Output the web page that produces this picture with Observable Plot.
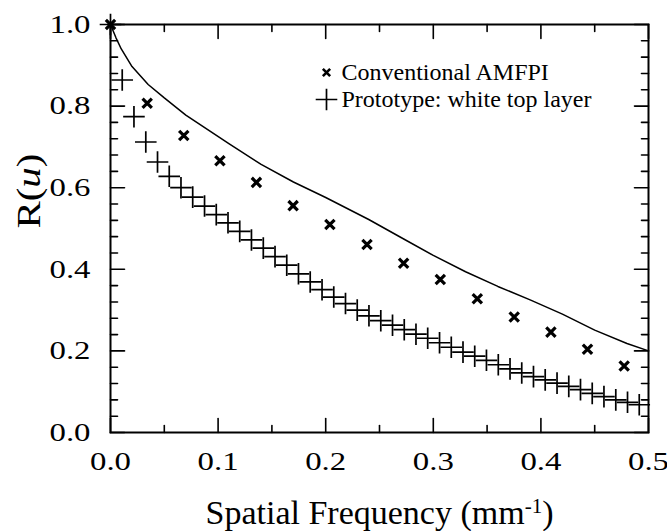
<!DOCTYPE html>
<html><head><meta charset="utf-8">
<script src="https://cdn.jsdelivr.net/npm/d3@7"></script>
<script src="https://cdn.jsdelivr.net/npm/@observablehq/plot@0.6"></script>
<style>body{margin:0;background:#fff;}</style>
</head><body><div id="chart"></div>
<script>
// Conventional AMFPI (x markers)
const convX = [0, 0.0341, 0.0681, 0.1017, 0.1356, 0.1697, 0.2039, 0.2384, 0.2724, 0.3065, 0.3409, 0.3752, 0.4093, 0.4433, 0.4774];
const convY = [1.0, 0.807, 0.728, 0.666, 0.613, 0.556, 0.510, 0.461, 0.415, 0.375, 0.328, 0.283, 0.246, 0.204, 0.163];
// Prototype: white top layer (+ markers)
const protoX = [0, 0.0109, 0.0218, 0.0328, 0.0437, 0.0546, 0.0655, 0.0764, 0.0874, 0.0983, 0.1092, 0.1201, 0.1310, 0.1420, 0.1529, 0.1638, 0.1747, 0.1856, 0.1966, 0.2075, 0.2184, 0.2293, 0.2402, 0.2512, 0.2621, 0.2730, 0.2839, 0.2948, 0.3058, 0.3167, 0.3276, 0.3385, 0.3494, 0.3604, 0.3713, 0.3822, 0.3931, 0.4040, 0.4150, 0.4259, 0.4368, 0.4477, 0.4586, 0.4696, 0.4805, 0.4914];
const protoY = [1.0, 0.864, 0.774, 0.712, 0.663, 0.628, 0.600, 0.577, 0.555, 0.534, 0.514, 0.493, 0.472, 0.452, 0.431, 0.410, 0.389, 0.369, 0.350, 0.332, 0.316, 0.300, 0.286, 0.274, 0.263, 0.252, 0.241, 0.231, 0.220, 0.209, 0.197, 0.187, 0.177, 0.166, 0.156, 0.146, 0.137, 0.129, 0.121, 0.113, 0.105, 0.096, 0.088, 0.080, 0.074, 0.068];
// Solid curve
const curveX = [0, 0.005, 0.01, 0.02, 0.035, 0.05, 0.07, 0.09, 0.11, 0.14, 0.17, 0.2, 0.24, 0.27, 0.3, 0.33, 0.36, 0.39, 0.42, 0.45, 0.48, 0.5];
const curveY = [1.0, 0.968, 0.94, 0.897, 0.853, 0.82, 0.778, 0.743, 0.708, 0.657, 0.614, 0.576, 0.522, 0.478, 0.434, 0.394, 0.358, 0.325, 0.29, 0.251, 0.218, 0.2];
// Ticks
const xMajor = [0, 0.1, 0.2, 0.3, 0.4, 0.5];
const xTickLabels = ["0.0", "0.1", "0.2", "0.3", "0.4", "0.5"];
const xMinor = [0.05, 0.15, 0.25, 0.35, 0.45];
const yMajor = [0, 0.2, 0.4, 0.6, 0.8, 1.0];
const yTickLabels = ["0.0", "0.2", "0.4", "0.6", "0.8", "1.0"];
const yMinor = [0.04, 0.08, 0.12, 0.16, 0.24, 0.28, 0.32, 0.36, 0.44, 0.48, 0.52, 0.56, 0.64, 0.68, 0.72, 0.76, 0.84, 0.88, 0.92, 0.96];
const legendLabels = ["Conventional AMFPI", "Prototype: white top layer"];
const xTitle = "Spatial Frequency (mm";
const xTitleSup = "-1";
const yTitle = "R(u)";

const conv = convX.map((x, i) => ({x, y: convY[i]}));
const proto = protoX.map((x, i) => ({x, y: protoY[i]}));
const curve = curveX.map((x, i) => ({x, y: curveY[i]}));

const FONT = "'Liberation Serif', 'Times New Roman', serif";
const tickShape = {draw(context, l) { context.moveTo(0, 0); context.lineTo(0, -l); }};
const MAJ = 14, MIN = 7;
const tickMarks = (data, ch, frameAnchor, rotate, len) =>
  Plot.vector(data, {[ch]: d => d, frameAnchor, rotate, length: len, anchor: "start", shape: tickShape, stroke: "black", strokeWidth: 1.6});

const plot = Plot.plot({
  width: 667, height: 531,
  marginLeft: 110, marginRight: 19, marginTop: 24, marginBottom: 99,
  style: {fontFamily: FONT, background: "#fff", color: "#000"},
  x: {domain: [0, 0.5]},
  y: {domain: [0, 1]},
  marks: [
    Plot.line(curve, {x: "x", y: "y", stroke: "black", strokeWidth: 1.5}),
    Plot.dot(proto, {x: "x", y: "y", symbol: "plus", r: 7, stroke: "black", strokeWidth: 1.7}),
    Plot.dot(conv, {x: "x", y: "y", symbol: "times", r: 4.3, stroke: "black", strokeWidth: 3.2}),
    tickMarks(xMajor, "x", "bottom", 0, MAJ),
    tickMarks(xMinor, "x", "bottom", 0, MIN),
    tickMarks(xMajor, "x", "top", 180, MAJ),
    tickMarks(xMinor, "x", "top", 180, MIN),
    tickMarks(yMajor, "y", "left", 90, MAJ),
    tickMarks(yMinor, "y", "left", 90, MIN),
    tickMarks(yMajor, "y", "right", 270, MAJ),
    tickMarks(yMinor, "y", "right", 270, MIN),
    Plot.axisX(xMajor, {anchor: "bottom", tickSize: 0, tickPadding: 19, fontSize: 26, fontFamily: FONT, label: null,
      tickFormat: d => xTickLabels[xMajor.indexOf(d)]}),
    Plot.axisY(yMajor, {anchor: "left", tickSize: 0, tickPadding: 20, fontSize: 26, fontFamily: FONT, label: null,
      tickFormat: d => yTickLabels[yMajor.indexOf(d)]}),
    Plot.frame({stroke: "black", strokeWidth: 2}),
    Plot.dot([legendLabels[0]], {frameAnchor: "top-left", dx: 216, dy: 48, symbol: "times", r: 3.4, stroke: "black", strokeWidth: 2.6}),
    Plot.dot([legendLabels[1]], {frameAnchor: "top-left", dx: 216, dy: 75, symbol: "plus", r: 7, stroke: "black", strokeWidth: 1.7}),
    Plot.text([legendLabels[0]], {frameAnchor: "top-left", dx: 231, dy: 48, lineAnchor: "middle", textAnchor: "start", fontSize: 24, fontFamily: FONT, fill: "black"}),
    Plot.text([legendLabels[1]], {frameAnchor: "top-left", dx: 231, dy: 75, lineAnchor: "middle", textAnchor: "start", fontSize: 24, fontFamily: FONT, fill: "black"}),
    Plot.text([xTitle], {frameAnchor: "bottom", dy: 81, lineAnchor: "middle", fontSize: 34, fontFamily: FONT, fill: "black"}),
    Plot.text([yTitle], {frameAnchor: "left", dx: -81, lineAnchor: "middle", rotate: -90, fontSize: 34, fontFamily: FONT, fill: "black"})
  ]
});
document.getElementById("chart").appendChild(plot);

const allText = d3.select(plot).selectAll("text");
// Rich text for titles (superscript, italic)
const xt = allText.filter(function() { return this.textContent === xTitle; });
xt.text(null);
xt.append("tspan").text(xTitle);
xt.append("tspan").attr("font-size", "0.62em").attr("dy", "-0.55em").text(xTitleSup);
xt.append("tspan").attr("dy", "0.34em").text(")");
const yt = allText.filter(function() { return this.textContent === yTitle; });
yt.text(null);
yt.append("tspan").text("R(");
yt.append("tspan").attr("font-style", "italic").text("u");
yt.append("tspan").text(")");

// Widen glyphs to match the reference's wide serif face
function widen(sel, k) {
  sel.each(function() {
    const len = this.getComputedTextLength();
    this.setAttribute("textLength", (len * k).toFixed(1));
    this.setAttribute("lengthAdjust", "spacingAndGlyphs");
  });
}
widen(d3.select(plot).selectAll('g[aria-label="x-axis tick label"] text, g[aria-label="y-axis tick label"] text'), 1.26);
widen(yt, 1.2);
</script>
</body></html>
